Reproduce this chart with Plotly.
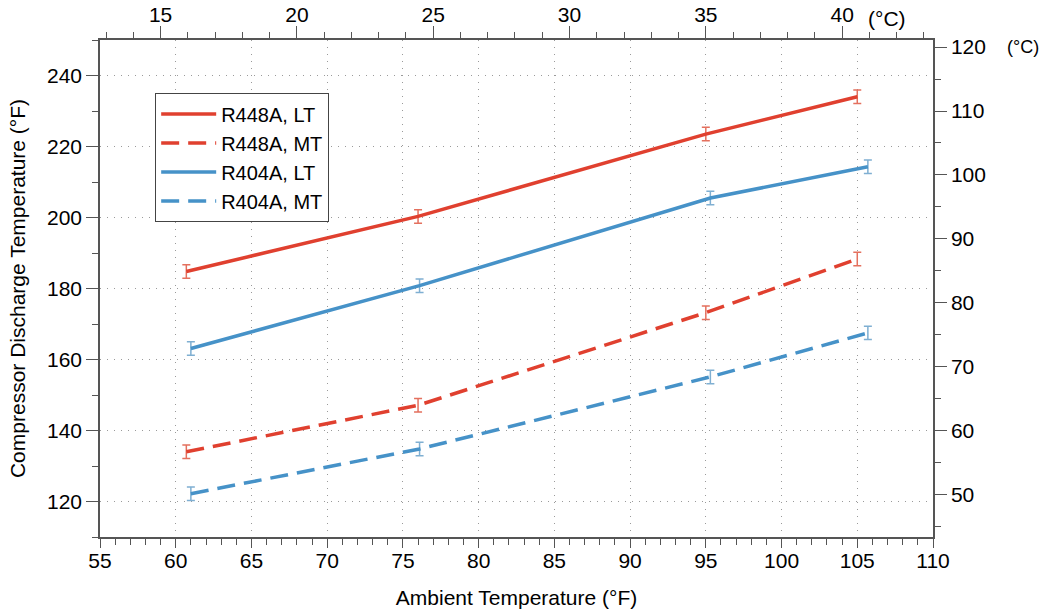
import plotly.graph_objects as go

# Ambient temperature (°F) at each test point
amb_r448a = [60.7, 76.0, 95.0, 105.0]
amb_r404a = [61.0, 76.1, 95.3, 105.7]

# Compressor discharge temperature (°F)
r448a_lt = [184.8, 200.3, 223.5, 234.0]
r448a_mt = [134.0, 147.1, 173.2, 188.3]
r404a_lt = [163.1, 180.8, 205.5, 214.3]
r404a_mt = [122.2, 134.8, 155.1, 167.5]

# Measurement uncertainty (± °F)
err_r448a_lt = [1.9, 1.9, 1.9, 1.9]
err_r448a_mt = [1.9, 1.9, 1.9, 1.9]
err_r404a_lt = [1.9, 1.9, 1.9, 1.9]
err_r404a_mt = [1.9, 1.9, 1.9, 1.9]

x_range_f = [55, 110]
y_range_f = [110, 250]


def f_to_c(v):
    return (v - 32) / 1.8


RED = "#E0402F"
RED_ERR = "#E4705E"
BLUE = "#4692C8"
BLUE_ERR = "#7FAFD2"
FONT = "Liberation Sans, Arial, Helvetica, sans-serif"
AXIS_COLOR = "#555555"
DASH = "18px,9px"
FS = 21

series = [
    ("R448A, LT", amb_r448a, r448a_lt, err_r448a_lt, RED, RED_ERR, "solid"),
    ("R448A, MT", amb_r448a, r448a_mt, err_r448a_mt, RED, RED_ERR, DASH),
    ("R404A, LT", amb_r404a, r404a_lt, err_r404a_lt, BLUE, BLUE_ERR, "solid"),
    ("R404A, MT", amb_r404a, r404a_mt, err_r404a_mt, BLUE, BLUE_ERR, DASH),
]

fig = go.Figure()
for name, xs, ys, errs, col, ecol, dash in series:
    fig.add_trace(go.Scatter(
        x=xs, y=ys, name=name, mode="lines",
        line=dict(color=col, width=3.5, dash=dash),
        error_y=dict(type="data", array=errs, visible=True,
                     color=ecol, thickness=1.5, width=4),
    ))

# Empty trace so the Celsius axes (top and right) are drawn
fig.add_trace(go.Scatter(x=[], y=[], xaxis="x2", yaxis="y2",
                         showlegend=False, hoverinfo="skip"))

tick_font = dict(family=FONT, size=FS, color="black")
common = dict(
    showline=True, linecolor=AXIS_COLOR, linewidth=1.5,
    ticks="outside", ticklen=12, tickwidth=1.3, tickcolor=AXIS_COLOR,
    tickfont=tick_font, zeroline=False, automargin=False,
)

fig.update_layout(
    width=1040, height=613,
    margin=dict(l=100, r=107, t=40, b=76),
    paper_bgcolor="white", plot_bgcolor="white",
    font=dict(family=FONT, size=FS, color="black"),
    xaxis=dict(
        range=x_range_f, dtick=5, tick0=55,
        showgrid=True, gridcolor="#9a9a9a", gridwidth=1, griddash="1px,6px",
        minor=dict(dtick=1, ticks="outside", ticklen=6, tickcolor=AXIS_COLOR,
                   showgrid=False),
        title=dict(text="Ambient Temperature (°F)", font=dict(size=FS),
                   standoff=19),
        ticklabelstandoff=-5,
        **{**common, "ticklen": 9},
    ),
    yaxis=dict(
        range=y_range_f, dtick=20, tick0=0,
        showgrid=True, gridcolor="#9a9a9a", gridwidth=1, griddash="1px,6px",
        minor=dict(dtick=10, ticks="outside", ticklen=6, tickcolor=AXIS_COLOR,
                   showgrid=False),
        title=dict(text="Compressor Discharge Temperature (°F)",
                   font=dict(size=FS), standoff=16),
        **common,
    ),
    xaxis2=dict(
        overlaying="x", side="top", anchor="y2",
        range=[f_to_c(x_range_f[0]), f_to_c(x_range_f[1])],
        dtick=5, tick0=0, showgrid=False,
        minor=dict(dtick=1, ticks="outside", ticklen=6, tickcolor=AXIS_COLOR),
        ticklabelstandoff=-4,
        **common,
    ),
    yaxis2=dict(
        overlaying="y", side="right", anchor="x2",
        range=[f_to_c(y_range_f[0]), f_to_c(y_range_f[1])],
        dtick=10, tick0=0, showgrid=False,
        minor=dict(dtick=5, ticks="outside", ticklen=6, tickcolor=AXIS_COLOR),
        **common,
    ),
    legend=dict(
        x=0.066, y=0.893, xanchor="left", yanchor="top",
        bgcolor="white", bordercolor="#444444", borderwidth=1.2,
        font=dict(family=FONT, size=20, color="black"),
        itemwidth=55, tracegroupgap=0,
    ),
    annotations=[
        dict(text="(°C)", xref="x2", yref="paper", x=40, y=1,
             xanchor="left", yanchor="middle", xshift=24, yshift=22,
             showarrow=False, font=tick_font),
        dict(text="(°C)", xref="paper", yref="y2", x=1, y=120,
             xanchor="left", yanchor="middle", xshift=72,
             showarrow=False, font=dict(family=FONT, size=18, color="black")),
    ],
)

fig.write_html("out.html")
